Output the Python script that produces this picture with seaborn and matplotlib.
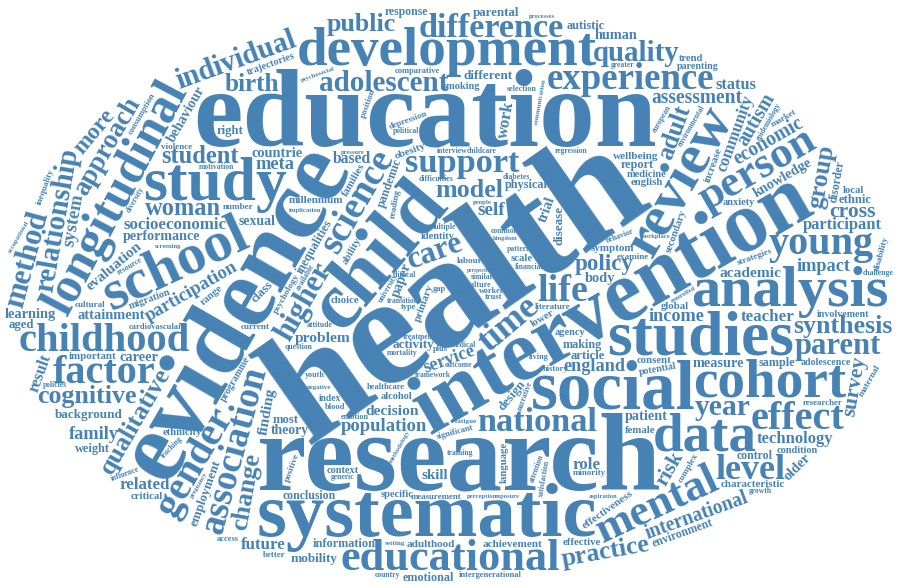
import numpy as np
import matplotlib
matplotlib.use("Agg")
import matplotlib.pyplot as plt
import seaborn as sns
from matplotlib.font_manager import FontProperties
from matplotlib.textpath import TextPath
from matplotlib.transforms import Affine2D

# word list and relative weights
WORDS = [
    "health", "research", "education", "intervention", "evidence", "systematic", "child", "development", "social", "studies",
    "study", "educational", "review", "school", "analysis", "longitudinal", "data", "cohort", "association", "experience",
    "childhood", "relationship", "science", "mental", "person", "qualitative", "gender", "national", "support", "difference",
    "factor", "individual", "adolescent", "young", "effect", "socioeconomic", "life", "time", "level", "cognitive",
    "synthesis", "understanding", "population", "higher", "participation", "practice", "method", "parent", "public", "model",
    "change", "quality", "student", "woman", "assessment", "approach", "community", "international", "economic", "participant",
    "performance", "technology", "policy", "care", "birth", "background", "employment", "group", "survey", "england",
    "income", "year", "adult", "impact", "decision", "finding", "problem", "family", "service", "academic",
    "autism", "teacher", "attainment", "countrie", "behaviour", "pandemic", "more", "knowledge", "physical", "engagement",
    "information", "inequalities", "related", "learning", "effectiveness", "management", "different", "adulthood", "achievement", "wellbeing",
    "millennium", "psychological", "based", "cross", "activity", "mobility", "system", "meta", "risk", "measure",
    "making", "patient", "paper", "future", "trajectories", "emotional", "secondary", "human", "work", "primary",
    "evaluation", "psychology", "important", "parental", "symptom", "design", "developmental", "characteristic", "families", "disease",
    "intergenerational", "conclusion", "comparative", "healthcare", "involvement", "environment", "adolescence", "cardiovascular", "programme", "biomedicine",
    "consumption", "significant", "theory", "parenting", "potential", "result", "self", "status", "response", "sexual",
    "control", "disorder", "implementation", "environmental", "condition", "medicine", "literature", "depression", "epidemiology", "inequality",
    "migration", "alcohol", "sample", "smoking", "identity", "autistic", "career", "weight", "body", "role",
    "researcher", "measurement", "framework", "disadvantage", "regression", "report", "agency", "anxiety", "university", "context",
    "specific", "older", "minority", "increase", "trial", "communication", "strategies", "psychosocial", "labour", "transition",
    "mortality", "examine", "obesity", "female", "cultural", "consent", "english", "choice", "global", "right",
    "ethnic", "article", "critical", "number", "multiple", "treatment", "language", "challenge", "skill", "most",
    "implication", "satisfaction", "maternal", "lower", "occupational", "methodology", "perception", "difficulties", "behavior", "influence",
    "disability", "effective", "aged", "ability", "current", "question", "workplace", "training", "violence", "diabetes",
    "reading", "narrative", "class", "complex", "attitude", "resource", "positive", "aspiration", "financial", "screening",
    "ethnicity", "interview", "outcome", "childcare", "teaching", "pattern", "political", "pressure", "european", "growth",
    "market", "position", "generic", "range", "scale", "trend", "local", "country", "kingdom", "processes",
    "pregnancy", "perspective", "clinical", "greater", "medical", "common", "motivation", "exposure", "controlled", "similar",
    "better", "available", "diversity", "policies", "attention", "negative", "selection", "emotion", "culture", "youth",
    "people", "living", "worker", "index", "history", "blood", "plus", "setting", "gap", "access",
    "type", "fatigue", "trust",
]

WEIGHTS = [
    150, 105, 105, 95, 95, 85, 75, 72, 65, 60,
    58, 58, 55, 55, 55, 55, 52, 52, 48, 48,
    45, 44, 42, 42, 42, 40, 38, 38, 38, 38,
    38, 38, 38, 38, 38, 36, 36, 34, 34, 34,
    34, 34, 34, 34, 34, 34, 34, 34, 34, 34,
    34, 32, 32, 32, 30, 30, 30, 30, 30, 30,
    30, 30, 30, 30, 28, 28, 28, 28, 28, 28,
    28, 28, 28, 28, 28, 28, 28, 28, 28, 28,
    26, 26, 26, 26, 26, 26, 26, 26, 26, 26,
    26, 26, 26, 26, 24, 24, 24, 24, 24, 24,
    24, 24, 24, 24, 24, 24, 24, 24, 24, 22,
    22, 22, 22, 22, 22, 22, 22, 22, 22, 20,
    20, 20, 20, 20, 20, 20, 20, 20, 20, 20,
    18, 18, 18, 18, 18, 18, 18, 18, 18, 18,
    18, 18, 18, 18, 18, 18, 18, 18, 18, 18,
    18, 18, 16, 16, 16, 16, 16, 16, 16, 16,
    16, 16, 16, 16, 16, 16, 16, 16, 16, 16,
    16, 16, 16, 16, 16, 16, 16, 16, 16, 16,
    16, 16, 16, 16, 16, 15, 14, 14, 14, 14,
    14, 14, 14, 14, 14, 14, 14, 14, 14, 14,
    14, 14, 14, 14, 14, 14, 14, 14, 14, 14,
    14, 14, 14, 14, 12, 12, 12, 12, 12, 12,
    12, 12, 12, 12, 12, 12, 12, 12, 12, 12,
    12, 12, 12, 12, 12, 12, 12, 10, 10, 10,
    10, 10, 10, 10, 10, 10, 10, 10, 10, 10,
    10, 10, 10, 10, 10, 10, 10, 10, 10, 10,
    10, 10, 10, 10, 10, 10, 10, 10, 10, 10,
    10, 10, 10, 10, 10, 9, 9, 9, 9, 9,
    9, 9, 9, 9, 8, 8, 8, 8, 8, 8,
    8, 8, 8,
]

# text rotation of each word (style, degrees counter-clockwise)
ANGLES = [
    35, 0, 0, 30, 60, 0, 50, 0, 0, 0,
    0, 0, 60, 25, 0, 62, 0, 0, 75, 0,
    0, 80, 60, 25, 30, 60, 60, 0, 0, 0,
    0, 20, 0, 0, 0, 0, 0, 40, 0, 0,
    0, 0, 0, 60, 30, 10, 75, 0, 0, 0,
    80, 0, 0, 0, 0, 60, 70, 20, 30, 0,
    0, 0, 0, 20, 0, 0, 70, 80, 80, 0,
    0, 0, 70, 0, 0, 80, 0, 0, 20, 0,
    60, 0, 0, 0, 60, 70, 50, 30, 0, 0,
    0, 60, 0, 0, 35, 20, 0, 0, 0, 0,
    0, 0, 0, 0, 0, 0, 80, 0, 60, 0,
    0, 0, 70, 0, 20, 0, 70, 0, 80, 70,
    40, 60, 0, 0, 0, 50, 0, 0, 60, 90,
    0, 0, 0, 0, 0, 20, 0, 0, 60, 70,
    60, 15, 0, 0, 10, 70, 0, 0, 0, 0,
    0, 80, 0, 60, 0, 0, 0, 20, 60, 70,
    20, 0, 0, 0, 0, 0, 0, 0, 0, 0,
    0, 0, 0, 0, 0, 0, 0, 0, 60, 0,
    0, 45, 0, 70, 70, 80, 20, 20, 0, 0,
    0, 0, 20, 0, 0, 0, 0, 0, 0, 0,
    0, 0, 0, 0, 0, 0, 90, 0, 0, 0,
    0, 80, 60, 30, 60, 60, 0, 0, 20, 20,
    75, 0, 0, 60, 0, 0, 0, 0, 0, 0,
    80, 70, 45, 60, 0, 30, 70, 0, 0, 0,
    0, 0, 0, 0, 45, 0, 0, 0, 60, 0,
    30, 70, 0, 40, 0, 0, 0, 0, 0, 0,
    60, 0, 0, 0, 0, 0, 0, 0, 30, 0,
    0, 60, 60, 0, 70, 0, 0, 0, 0, 0,
    0, 0, 0, 0, 0, 0, 0, 0, 0, 0,
    0, 0, 0,
]

assert len(WORDS) == len(WEIGHTS) == len(ANGLES)

W, H, DPI = 900, 588, 100
STEP = 2                      # layout grid cell, px
GW, GH = W // STEP, H // STEP
SIZE_SCALE = 1.06             # px of em per unit weight
RX, RY = W / 2 - 3, H / 2 - 5  # cloud outline
COLOR = "#4682b4"

sns.set_theme(style="white")
plt.rcParams["font.family"] = ["Liberation Serif", "DejaVu Serif"]
FONT = FontProperties(family=["Liberation Serif", "DejaVu Serif"], weight="bold")


def dilate(m):
    out = m.copy()
    out[1:] |= m[:-1]
    out[:-1] |= m[1:]
    out[:, 1:] |= m[:, :-1]
    out[:, :-1] |= m[:, 1:]
    return out


def glyph_mask(word, size, angle):
    """Rasterise the rotated text outline on the layout grid."""
    path = TextPath((0, 0), word, size=size, prop=FONT)
    path = Affine2D().rotate_deg(angle).transform_path(path)
    lo = path.vertices.min(axis=0) - 2 * STEP
    hi = path.vertices.max(axis=0) + 2 * STEP
    xs = np.arange(lo[0], hi[0], STEP)
    ys = np.arange(lo[1], hi[1], STEP)
    gx, gy = np.meshgrid(xs, ys)
    ink = path.contains_points(np.column_stack([gx.ravel(), gy.ravel()]))
    return ink.reshape(gy.shape), xs[0], ys[0]


# cells outside the elliptic cloud count as taken
cx = (np.arange(GW) + 0.5) * STEP
cy = (np.arange(GH) + 0.5) * STEP
ell = ((cx[None, :] - W / 2) / RX) ** 2 + ((cy[:, None] - H / 2) / RY) ** 2
occ = (ell > 1.0).astype(float)
occ_fft = np.fft.rfft2(occ)


def find_spot(mask):
    h, w = mask.shape
    if h > GH or w > GW:
        return None
    pad = np.zeros((GH, GW))
    pad[:h, :w] = mask
    corr = np.fft.irfft2(occ_fft * np.conj(np.fft.rfft2(pad)), s=(GH, GW))
    corr = corr[: GH - h + 1, : GW - w + 1]
    free = corr < 0.5
    if not free.any():
        return None
    mx = (np.arange(GW - w + 1) + (w - 1) / 2 + 0.5) * STEP
    my = (np.arange(GH - h + 1) + (h - 1) / 2 + 0.5) * STEP
    # plain distance: words stack above / below the centre first
    dist = (mx[None, :] - W / 2) ** 2 + (my[:, None] - H / 2) ** 2
    dist[~free] = np.inf
    i, j = np.unravel_index(np.argmin(dist), dist.shape)
    return i, j


placed = []
order = np.argsort(-np.asarray(WEIGHTS), kind="stable")
for k in order:
    word, angle = WORDS[k], ANGLES[k]
    size = WEIGHTS[k] * SIZE_SCALE
    for _ in range(6):
        ink, x0, y0 = glyph_mask(word, size, angle)
        spot = find_spot(dilate(ink).astype(float))
        if spot is not None:
            break
        size *= 0.85
    if spot is None:
        continue
    i, j = spot
    h, w = ink.shape
    occ[i:i + h, j:j + w] = np.maximum(occ[i:i + h, j:j + w], dilate(ink))
    occ_fft = np.fft.rfft2(occ)
    ax_x = j * STEP + STEP / 2 - x0
    ax_y = i * STEP + STEP / 2 - y0
    placed.append((word, ax_x, ax_y, size, angle))

fig = plt.figure(figsize=(W / DPI, H / DPI), dpi=DPI)
ax = fig.add_axes([0, 0, 1, 1])
ax.set_xlim(0, W)
ax.set_ylim(0, H)
ax.axis("off")

for word, x, y, size, angle in placed:
    ax.text(x, y, word, fontproperties=FONT, fontsize=size * 72 / DPI,
            rotation=angle, rotation_mode="anchor", ha="left", va="baseline",
            color=COLOR)

fig.savefig("out.png", dpi=DPI, facecolor="white")
